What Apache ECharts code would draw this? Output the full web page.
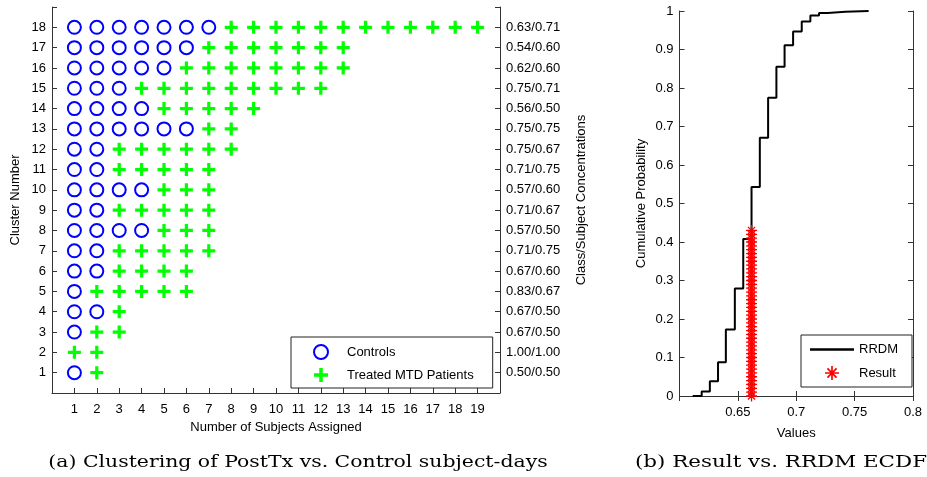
<!DOCTYPE html>
<html><head><meta charset="utf-8">
<script src="https://cdn.jsdelivr.net/npm/echarts@6/dist/echarts.min.js"></script>
<style>html,body{margin:0;padding:0;background:#fff}#c{width:927px;height:477px}</style>
</head><body><div id="c"></div>
<script>
// ---- Panel (a) data ----
const clusters = [1,2,3,4,5,6,7,8,9,10,11,12,13,14,15,16,17,18];
const controlsCount = [1,0,1,2,1,2,2,4,2,4,2,2,6,4,3,5,6,7];
const treatedCount  = [1,2,2,1,5,4,5,3,5,3,5,6,2,5,9,8,7,12];
const concLabels = ['0.50/0.50','1.00/1.00','0.67/0.50','0.67/0.50','0.83/0.67','0.67/0.60',
  '0.71/0.75','0.57/0.50','0.71/0.67','0.57/0.60','0.71/0.75','0.75/0.67','0.75/0.75',
  '0.56/0.50','0.75/0.71','0.62/0.60','0.54/0.60','0.63/0.71'];
// ---- Panel (b) data ----
const ecdfX = [0.6113,0.619,0.626,0.633,0.6397,0.6474,0.6546,0.6617,0.6688,0.6759,0.683,0.690,0.6973,0.7047,0.7121,0.7195,0.727,0.742,0.762];
const ecdfY = [0,0.012,0.038,0.0875,0.173,0.279,0.408,0.543,0.671,0.775,0.855,0.911,0.947,0.973,0.988,0.995,0.998,1.0,1.0];
const resultX = 0.6617;
const resultY = [0,0.01,0.02,0.03,0.04,0.05,0.06,0.07,0.08,0.09,0.10,0.11,0.12,0.13,0.14,0.15,0.16,0.17,0.18,0.19,0.20,0.21,0.22,0.23,0.24,0.25,0.26,0.27,0.28,0.29,0.30,0.31,0.32,0.33,0.34,0.35,0.36,0.37,0.38,0.39,0.40,0.41,0.42,0.43];

const controlsPts = [], treatedPts = [];
clusters.forEach((c, i) => {
  for (let k = 1; k <= controlsCount[i]; k++) controlsPts.push([k, c]);
  for (let k = 1; k <= treatedCount[i]; k++) treatedPts.push([controlsCount[i] + k, c]);
});
const ecdfData = ecdfX.map((x, i) => [x, ecdfY[i]]);
const resultData = resultY.map(y => [resultX, y]);

const FONT = 'Liberation Sans';
const lab = {color:'#000', fontFamily: FONT, fontSize: 13};
const axLine = {show:true, lineStyle:{color:'#333', width:1}};
const tickIn = {show:true, inside:true, length:5, lineStyle:{color:'#333'}};
const nameStyle = {color:'#000', fontFamily: FONT, fontSize: 13};
const PLUS = 'path://M4.5,0 H7.5 V4.5 H12 V7.5 H7.5 V12 H4.5 V7.5 H0 V4.5 H4.5 Z';
const STAR = 'path://M8.8,0 L11.2,0 L11.2,20 L8.8,20 Z M0,8.8 L20,8.8 L20,11.2 L0,11.2 Z M4.35,2.65 L17.35,15.65 L15.65,17.35 L2.65,4.35 Z M15.65,2.65 L17.35,4.35 L4.35,17.35 L2.65,15.65 Z';
const LINEICON = 'path://M0,0 H42 V2.2 H0 Z';

const chart = echarts.init(document.getElementById('c'), null, {renderer:'canvas'});
chart.setOption({
  backgroundColor:'#fff',
  animation:false,
  grid:[
    {left:52, top:7, width:448, height:386, show:false},
    {left:679.5, top:11, width:233.5, height:385, show:false}
  ],
  xAxis:[
    {gridIndex:0, type:'value', min:0, max:20, interval:1, position:'bottom',
     axisLine:axLine, axisTick:tickIn, splitLine:{show:false},
     axisLabel:Object.assign({margin:10, formatter:v => (v>=1 && v<=19) ? String(v) : ''}, lab),
     name:'Number of Subjects Assigned', nameLocation:'middle', nameGap:28, nameTextStyle:nameStyle},
    {gridIndex:1, type:'value', min:0.6, max:0.8, interval:0.05, position:'bottom',
     axisLine:axLine, axisTick:tickIn, splitLine:{show:false},
     axisLabel:Object.assign({margin:10, showMinLabel:true, formatter:v => (v < 0.62) ? '' : String(+v.toFixed(2))}, lab),
     name:'Values', nameLocation:'middle', nameGap:31, nameTextStyle:nameStyle},
    {gridIndex:1, type:'value', min:0.6, max:0.8, interval:0.05, position:'top',
     axisLine:axLine, axisTick:tickIn, splitLine:{show:false}, axisLabel:{show:false}}
  ],
  yAxis:[
    {gridIndex:0, type:'value', min:0, max:19, interval:1, position:'left',
     axisLine:axLine, axisTick:tickIn, splitLine:{show:false},
     axisLabel:Object.assign({margin:6, formatter:v => (v>=1 && v<=18) ? String(v) : ''}, lab),
     name:'Cluster Number', nameLocation:'middle', nameRotate:90, nameGap:30, nameTextStyle:nameStyle},
    {gridIndex:0, type:'value', min:0, max:19, interval:1, position:'right',
     axisLine:axLine, axisTick:tickIn, splitLine:{show:false},
     axisLabel:Object.assign({margin:6, formatter:v => (v>=1 && v<=18) ? concLabels[v-1] : ''}, lab),
     name:'Class/Subject Concentrations', nameLocation:'middle', nameRotate:90, nameGap:75, nameTextStyle:nameStyle},
    {gridIndex:1, type:'value', min:0, max:1, interval:0.1, position:'left',
     axisLine:axLine, axisTick:tickIn, splitLine:{show:false},
     axisLabel:Object.assign({margin:6, formatter:v => String(+v.toFixed(1))}, lab),
     name:'Cumulative Probability', nameLocation:'middle', nameRotate:90, nameGap:32, nameTextStyle:nameStyle},
    {gridIndex:1, type:'value', min:0, max:1, interval:0.1, position:'right',
     axisLine:axLine, axisTick:tickIn, splitLine:{show:false}, axisLabel:{show:false}}
  ],
  legend:[
    {left:291, top:337, orient:'vertical', itemWidth:42, itemHeight:14, itemGap:8,
     padding:[7,19,6,22], borderColor:'#222', borderWidth:1, backgroundColor:'#fff',
     textStyle:{color:'#000', fontFamily:FONT, fontSize:13},
     data:['Controls','Treated MTD Patients']},
    {left:801, top:335, orient:'vertical', itemWidth:44, itemHeight:14, itemGap:10,
     padding:[8,14,7,9], borderColor:'#222', borderWidth:1, backgroundColor:'#fff',
     textStyle:{color:'#000', fontFamily:FONT, fontSize:13},
     data:[{name:'RRDM', icon:LINEICON},'Result']}
  ],
  series:[
    {name:'Controls', type:'scatter', xAxisIndex:0, yAxisIndex:0, data:controlsPts,
     symbol:'emptyCircle', symbolSize:13, symbolKeepAspect:true,
     itemStyle:{color:'#0000ff', borderColor:'#0000ff', borderWidth:2.8, opacity:1}},
    {name:'Treated MTD Patients', type:'scatter', xAxisIndex:0, yAxisIndex:0, data:treatedPts,
     symbol:PLUS, symbolSize:13, symbolKeepAspect:true,
     itemStyle:{color:'#00ff00', opacity:1}},
    {name:'RRDM', type:'line', xAxisIndex:1, yAxisIndex:2, data:ecdfData, step:'end',
     symbol:'none', showSymbol:false, lineStyle:{color:'#000', width:2}, itemStyle:{color:'#000'}},
    {name:'Result', type:'scatter', xAxisIndex:1, yAxisIndex:2, data:resultData, z:5,
     symbol:STAR, symbolSize:11, symbolKeepAspect:true, itemStyle:{color:'#ff0000', opacity:1}}
  ],
  graphic:[
    {type:'text', x:298, y:463, scaleX:1.2, style:{text:'(a) Clustering of PostTx vs. Control subject-days', fontFamily:'DejaVu Serif', fontSize:17, fill:'#000', align:'center', verticalAlign:'middle', x:0, y:0}},
    {type:'text', x:781, y:463, scaleX:1.26, style:{text:'(b) Result vs. RRDM ECDF', fontFamily:'DejaVu Serif', fontSize:17, fill:'#000', align:'center', verticalAlign:'middle', x:0, y:0}}
  ]
});
</script></body></html>
